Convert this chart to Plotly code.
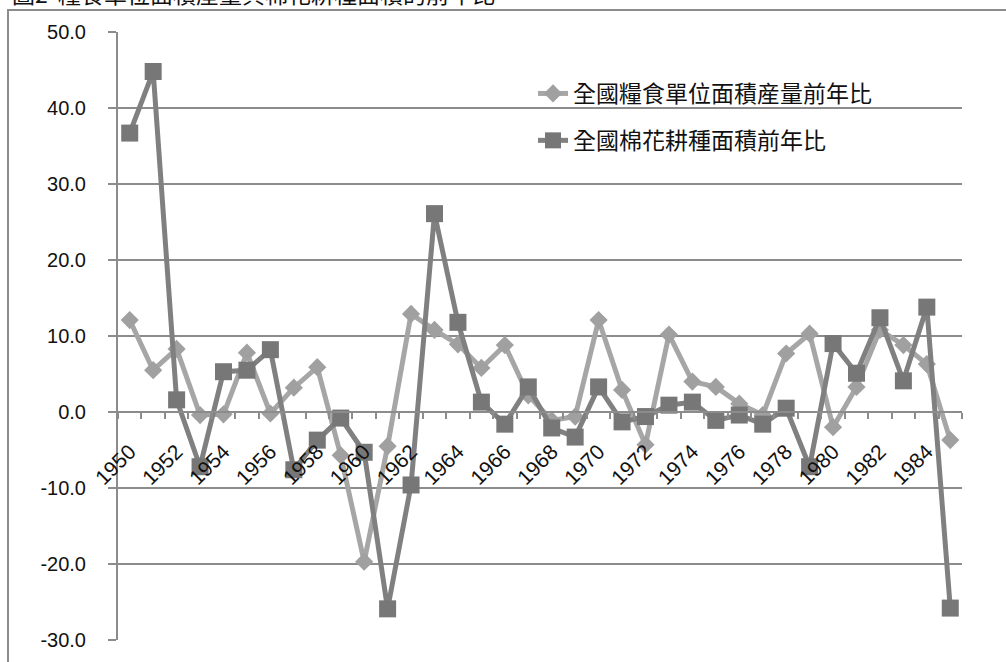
import plotly.graph_objects as go

# Year-over-year change (%), 1950-1985
years = [str(y) for y in range(1950, 1986)]

grain_yield = [12.1, 5.5, 8.3, -0.4, -0.3, 7.8, -0.2, 3.2, 5.9, -5.7,
               -19.7, -4.5, 12.9, 10.8, 8.9, 5.8, 8.8, 2.2, -1.1, -0.6,
               12.1, 2.9, -4.3, 10.2, 4.0, 3.3, 1.1, -0.4, 7.7, 10.3,
               -2.0, 3.3, 10.8, 8.8, 6.3, -3.7]

cotton_area = [36.7, 44.8, 1.6, -7.2, 5.3, 5.5, 8.2, -7.6, -3.7, -0.8,
               -5.3, -25.9, -9.6, 26.1, 11.8, 1.3, -1.6, 3.3, -2.1, -3.3,
               3.3, -1.3, -0.6, 0.9, 1.3, -1.1, -0.4, -1.6, 0.5, -7.2,
               9.0, 5.1, 12.4, 4.1, 13.8, -25.8]

grain_name = "全國糧食單位面積産量前年比"
cotton_name = "全國棉花耕種面積前年比"
title_text = "圖2  糧食單位面積産量與棉花耕種面積的前年比"

y_ticks = [-30, -20, -10, 0, 10, 20, 30, 40, 50]
y_ticktext = [f"{v:.1f}" for v in y_ticks]
x_labels = [y if int(y) % 2 == 0 else "" for y in years]

GRID = "#8c8c8c"
W, H = 1006, 662
ML, MR, MT, MB = 118, 44, 32, 22
plot_w = W - ML - MR
plot_h = H - MT - MB

fig = go.Figure()

fig.add_trace(go.Scatter(
    x=years, y=grain_yield, name=grain_name, mode="lines+markers",
    legendgroup="g1",
    line=dict(color="#a6a6a6", width=5),
    marker=dict(symbol="diamond", size=14, color="#a0a0a0"),
))
fig.add_trace(go.Scatter(
    x=years, y=cotton_area, name=cotton_name, mode="lines+markers",
    legendgroup="g2",
    line=dict(color="#808080", width=5),
    marker=dict(symbol="square", size=17, color="#777777"),
))

# outer frame of the chart area
fig.add_shape(
    type="rect", xref="paper", yref="paper",
    x0=(8 - ML) / plot_w, x1=(W + 10 - ML) / plot_w,
    y0=-(30) / plot_h, y1=(H - MB - 10) / plot_h,
    line=dict(color=GRID, width=2), fillcolor="rgba(0,0,0,0)",
)

fig.add_annotation(
    text=title_text, xref="paper", yref="paper",
    x=(10 - ML) / plot_w, xanchor="left",
    y=(H - MB - 12) / plot_h, yanchor="bottom",
    showarrow=False,
    font=dict(family="Noto Sans CJK TC", size=23, color="#111111"),
)

fig.update_layout(
    width=W, height=H,
    margin=dict(l=ML, r=MR, t=MT, b=MB, pad=0),
    paper_bgcolor="white", plot_bgcolor="white",
    showlegend=True,
    legend=dict(
        x=(533 - ML) / plot_w, xanchor="left",
        y=(H - MB - 72) / plot_h, yanchor="top",
        bgcolor="rgba(0,0,0,0)",
        font=dict(family="Noto Sans CJK TC", size=23, color="#111111"),
        traceorder="grouped", tracegroupgap=14,
    ),
    xaxis=dict(
        type="category", range=[-0.5, len(years) - 0.5],
        anchor="free", position=30 / 80,
        tickmode="array", tickvals=years, ticktext=x_labels,
        tickson="boundaries", ticks="outside", ticklen=6,
        tickwidth=2, tickcolor=GRID,
        showline=True, linecolor=GRID, linewidth=2,
        showgrid=False, tickangle=-45, ticklabelstandoff=18,
        tickfont=dict(family="Liberation Sans", size=21, color="#111111"),
    ),
    yaxis=dict(
        range=[-30, 50], tickmode="array", tickvals=y_ticks,
        ticktext=y_ticktext,
        ticks="outside", ticklen=8, tickwidth=2, tickcolor=GRID,
        showline=True, linecolor=GRID, linewidth=2,
        showgrid=True, gridcolor=GRID, gridwidth=2,
        zeroline=False, ticklabelstandoff=18,
        tickfont=dict(family="Liberation Sans", size=20, color="#111111"),
    ),
)

fig.write_html("out.html")
